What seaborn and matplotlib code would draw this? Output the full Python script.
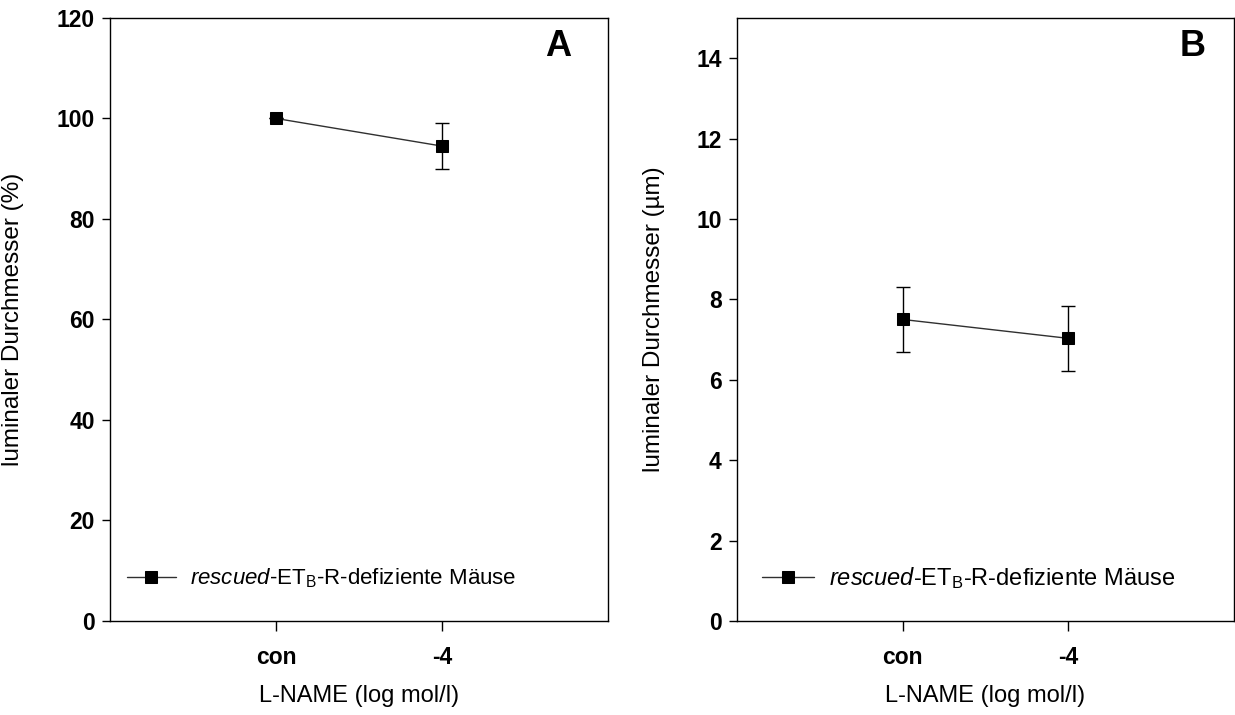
import numpy as np
import matplotlib
matplotlib.use("Agg")
import matplotlib.pyplot as plt
import seaborn as sns

# values
categories = ["con", "-4"]
percent_mean = [100.0, 94.5]
percent_err = [0.0, 4.5]
micron_mean = [7.5, 7.03]
micron_err = [0.8, 0.81]

legend_label = r"$\mathit{rescued}$-ET$_\mathregular{B}$-R-defiziente Mäuse"
xlabel = "L-NAME (log mol/l)"

sns.set_style("ticks")
plt.rcParams["font.family"] = ["Liberation Sans", "DejaVu Sans"]
plt.rcParams["mathtext.fontset"] = "custom"
plt.rcParams["mathtext.rm"] = "Liberation Sans"
plt.rcParams["mathtext.it"] = "Liberation Sans:italic"
plt.rcParams["mathtext.bf"] = "Liberation Sans:bold"
plt.rcParams["text.color"] = "black"
plt.rcParams["axes.labelcolor"] = "black"
plt.rcParams["xtick.color"] = "black"
plt.rcParams["ytick.color"] = "black"


def draw_panel(ax, means, errs, ylabel, ylim, yticks, letter, legend_size, legend_x, ylabel_x):
    sns.pointplot(x=categories, y=means, ax=ax, color="black", markers="s",
                  linestyles="-", errorbar=None, markersize=8, linewidth=1)
    line = ax.lines[0]
    line.set_color("#303030")
    line.set_markerfacecolor("black")
    line.set_markeredgecolor("black")
    line.set_zorder(3)
    ax.errorbar(np.arange(len(categories)), means, yerr=errs, fmt="none",
                ecolor="black", elinewidth=1, capsize=5, capthick=1, zorder=2)

    ax.set_xlim(-1, len(categories))
    ax.set_ylim(*ylim)
    ax.set_yticks(yticks)
    ax.set_xticks(np.arange(len(categories)))
    ax.set_xticklabels(categories)
    for lbl in ax.get_xticklabels() + ax.get_yticklabels():
        lbl.set_fontweight("bold")
        lbl.set_fontsize(16.5)
    ax.tick_params(axis="y", length=6, width=1, pad=5, colors="black")
    ax.tick_params(axis="x", length=7, width=1, pad=11, colors="black")
    for sp in ax.spines.values():
        sp.set_linewidth(1)
        sp.set_color("black")

    ax.set_xlabel(xlabel, fontsize=17)
    ax.set_ylabel(ylabel, fontsize=17.5)
    ax.xaxis.set_label_coords(0.5, -0.106)
    ax.yaxis.set_label_coords(ylabel_x, 0.5)

    ax.text(*letter[1], letter[0], transform=ax.transAxes, fontsize=26,
            fontweight="bold", ha="center", va="center")

    ax.legend([line], [legend_label], loc="center left",
              bbox_to_anchor=(legend_x, 0.071), frameon=False, fontsize=legend_size,
              borderpad=0, borderaxespad=0, handlelength=2.2, handletextpad=0.65)


fig = plt.figure(figsize=(12.35, 7.15), dpi=100)
ax_a = fig.add_axes([0.0891, 0.1315, 0.4032, 0.8434])
ax_b = fig.add_axes([0.5968, 0.1315, 0.4024, 0.8434])

draw_panel(ax_a, percent_mean, percent_err, "luminaler Durchmesser (%)",
           (0, 120), np.arange(0, 121, 20), ("A", (0.90, 0.952)), 16, 0.034, -0.173)
draw_panel(ax_b, micron_mean, micron_err, "luminaler Durchmesser (µm)",
           (0, 15), np.arange(0, 15, 2), ("B", (0.917, 0.952)), 17, 0.050, -0.145)

fig.savefig("out.png", dpi=100)
